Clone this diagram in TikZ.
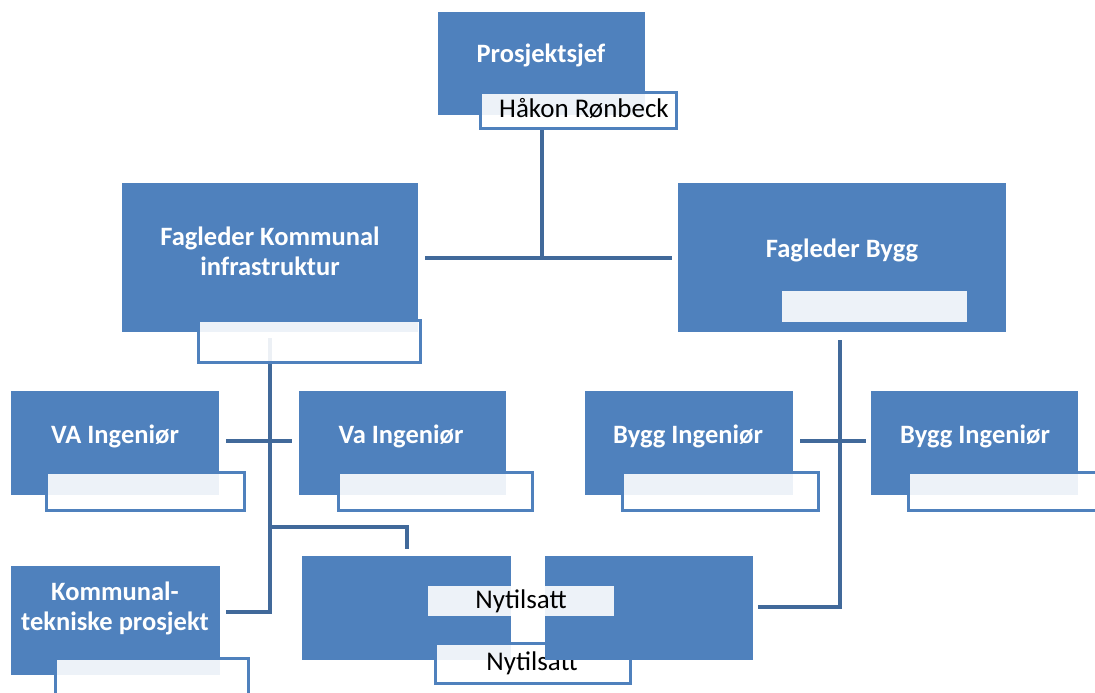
\documentclass[tikz,border=0pt]{standalone}
\usepackage{fontspec}
\setmainfont{Carlito}
\usetikzlibrary{fit}
\pgfdeclarelayer{background}
\pgfsetlayers{background,main}
\definecolor{boxblue}{HTML}{4F81BD}
\definecolor{linkblue}{HTML}{41699A}
\begin{document}
\begin{tikzpicture}[x=1pt,y=-1pt,
  box/.style={fill=boxblue, draw=none, inner sep=0pt},
  sub/.style={draw=boxblue, line width=3pt, fill=white, fill opacity=0.9, inner sep=0pt},
  subplain/.style={draw=none, fill=white, fill opacity=0.9, inner sep=0pt},
  title/.style={text=white, font=\bfseries\fontsize{26.5}{30}\selectfont, align=center, inner sep=0pt},
  subtext/.style={text=black, font=\fontsize{27}{31}\selectfont, inner sep=0pt},
  conn/.style={draw=linkblue, line width=4pt}]
\useasboundingbox (0,0) rectangle (1095,693);
\clip (0,0) rectangle (1095,693);

% ---------- coordinates for connectors
\coordinate (j1) at (542,258);
\coordinate (v2top) at (270,338);
\coordinate (h1) at (270,441);
\coordinate (j2) at (270,527);
\coordinate (b2) at (407,527);
\coordinate (k2) at (270,612);
\coordinate (v3top) at (840,340);
\coordinate (h3) at (840,441);
\coordinate (k3) at (840,607);

% ---------- boxes
\node[box, fit={(438,12) (645,115)}] (pj) {};
\node[title] (pjt) at (541,55) {Prosjektsjef};
\node[sub, fit={(480,92) (676,128)}] (pjs) {};
\node[subtext] (pjn) at (584,108) {Håkon Rønbeck};

\node[box, fit={(122,183) (418,332)}] (fk) {};
\node[title] (fkt) at (270,251) {Fagleder Kommunal\\infrastruktur};
\node[sub, fit={(198,320) (420,362)}] (fks) {};

\node[box, fit={(678,183) (1006,332)}] (fb) {};
\node[title] (fbt) at (842,250) {Fagleder Bygg};
\node[subplain, fit={(782,291) (967,322)}] (fbs) {};

\node[box, fit={(11,391) (219,495)}] (va1) {};
\node[title] (va1t) at (115,436) {VA Ingeniør};
\node[sub, fit={(46,472) (244,510)}] (va1s) {};

\node[box, fit={(299,391) (506,495)}] (va2) {};
\node[title] (va2t) at (401,436) {Va Ingeniør};
\node[sub, fit={(338,472) (532,510)}] (va2s) {};

\node[box, fit={(585,391) (793,495)}] (bi1) {};
\node[title] (bi1t) at (688,436) {Bygg Ingeniør};
\node[sub, fit={(622,472) (818,510)}] (bi1s) {};

\node[box, fit={(871,391) (1078,495)}] (bi2) {};
\node[title] (bi2t) at (975,436) {Bygg Ingeniør};
\node[sub, fit={(908,472) (1110,510)}] (bi2s) {};

\node[box, fit={(11,566) (220,675)}] (kt) {};
\node[title] (ktt) at (115,608) {Kommunal-\\tekniske prosjekt};
\node[sub, fit={(55,658) (248,705)}] (kts) {};

\node[box, fit={(302,556) (511,660)}] (ny1) {};
\node[sub, fit={(435,643) (630,683)}] (ny2) {};
\node[subtext] (ny2n) at (532,663) {Nytilsatt};
\node[box, fit={(545,556) (753,660)}] (ny3) {};
\node[subplain, fit={(428,586) (614,616)}] (nylab) {};
\node[subtext] (nylabn) at (521,601) {Nytilsatt};

% ---------- white page and connectors (behind the boxes)
\begin{pgfonlayer}{background}
\fill[white] (0,0) rectangle (1095,693);
\draw[conn] (pjs.south -| j1) -- (j1);
\draw[conn] ([xshift=7pt]fk.east |- j1) -- ([xshift=-6pt]fb.west |- j1);
\draw[conn] (v2top) -- (k2) -- ([xshift=6pt]kt.east |- k2);
\draw[conn] ([xshift=7pt]va1.east |- h1) -- ([xshift=-7pt]va2.west |- h1);
\draw[conn] (j2) -- (b2) -- ([yshift=7pt]ny1.north -| b2);
\draw[conn] (v3top) -- (k3) -- ([xshift=5pt]ny3.east |- k3);
\draw[conn] ([xshift=7pt]bi1.east |- h3) -- ([xshift=-5pt]bi2.west |- h3);
\end{pgfonlayer}
\end{tikzpicture}
\end{document}
